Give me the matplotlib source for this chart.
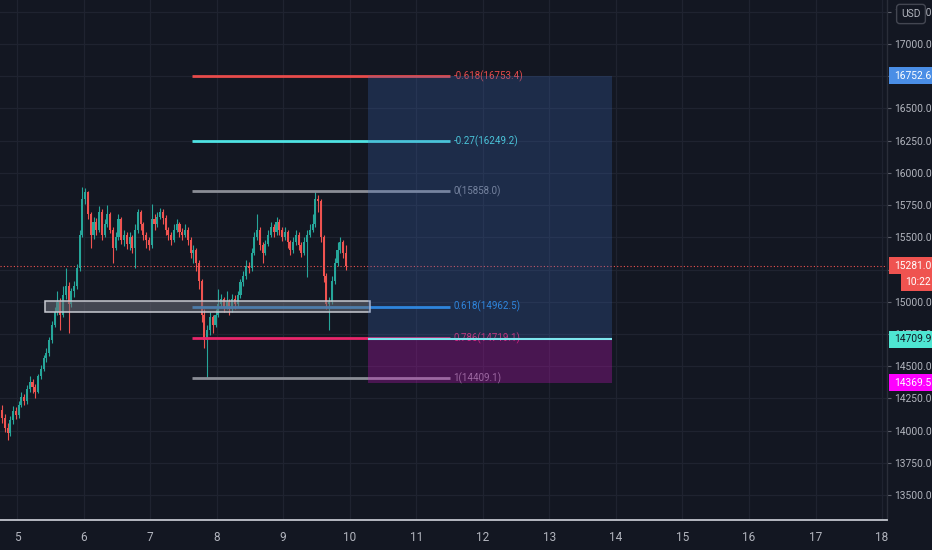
import matplotlib
matplotlib.use("Agg")
import matplotlib.pyplot as plt
import matplotlib.transforms as mtransforms
from matplotlib.patches import Rectangle

plt.rcParams['font.family'] = ['Roboto', 'DejaVu Sans']

# hourly candles, starting day 4.775
t_start = 4.775
opens = [14160, 14100, 14020, 13980, 14080, 14150, 14120, 14200, 14260, 14230,
         14320, 14380, 14340, 14300, 14420, 14480, 14560, 14600, 14700, 14820,
         14920, 15000, 14900, 15050, 15120, 14980, 15080, 15120, 15260, 15520,
         15800, 15850, 15680, 15520, 15620, 15560, 15700, 15520, 15600, 15680,
         15560, 15420, 15500, 15640, 15480, 15520, 15450, 15500, 15420, 15560,
         15700, 15600, 15520, 15480, 15440, 15640, 15600, 15660, 15700, 15650,
         15560, 15520, 15480, 15560, 15600, 15540, 15520, 15560, 15480, 15380,
         15400, 15300, 15160, 14900, 14700, 14780, 14880, 14820, 14900, 14980,
         15020, 14960, 15000, 14940, 15020, 14980, 15050, 15150, 15200, 15280,
         15260, 15380, 15500, 15560, 15440, 15380, 15450, 15520, 15580, 15540,
         15620, 15560, 15500, 15540, 15460, 15400, 15460, 15520, 15440, 15380,
         15460, 15520, 15560, 15600, 15800, 15780, 15500, 15200, 14980, 15000,
         15160, 15300, 15400, 15460, 15380]
closes = [14100, 14020, 13980, 14080, 14150, 14120, 14200, 14260, 14230, 14320,
          14380, 14340, 14300, 14420, 14480, 14560, 14600, 14700, 14820, 14920,
          15000, 14900, 15050, 15120, 14980, 15080, 15120, 15260, 15520, 15800,
          15850, 15680, 15520, 15620, 15560, 15700, 15520, 15600, 15680, 15560,
          15420, 15500, 15640, 15480, 15520, 15450, 15500, 15420, 15560, 15700,
          15600, 15520, 15480, 15440, 15640, 15600, 15660, 15700, 15650, 15560,
          15520, 15480, 15560, 15600, 15540, 15520, 15560, 15480, 15380, 15400,
          15300, 15160, 14900, 14700, 14780, 14880, 14820, 14900, 14980, 15020,
          14960, 15000, 14940, 15020, 14980, 15050, 15150, 15200, 15280, 15260,
          15380, 15500, 15560, 15440, 15380, 15450, 15520, 15580, 15540, 15620,
          15560, 15500, 15540, 15460, 15400, 15460, 15520, 15440, 15380, 15460,
          15520, 15560, 15600, 15800, 15780, 15500, 15200, 14980, 15000, 15160,
          15300, 15400, 15460, 15380, 15281]
highs = [14200, 14130, 14060, 14110, 14190, 14180, 14230, 14300, 14280, 14350,
         14420, 14400, 14360, 14440, 14510, 14590, 14640, 14730, 14850, 14960,
         15080, 15030, 15120, 15260, 15150, 15110, 15160, 15290, 15560, 15890,
         15880, 15860, 15700, 15660, 15650, 15740, 15720, 15640, 15750, 15700,
         15580, 15540, 15680, 15660, 15560, 15540, 15540, 15520, 15600, 15720,
         15710, 15620, 15540, 15500, 15760, 15680, 15700, 15730, 15720, 15670,
         15580, 15540, 15600, 15640, 15620, 15570, 15600, 15580, 15500, 15440,
         15420, 15320, 15180, 14940, 14820, 14920, 14900, 14940, 15100, 15060,
         15040, 15080, 15020, 15060, 15050, 15080, 15180, 15240, 15320, 15310,
         15420, 15540, 15680, 15580, 15460, 15480, 15560, 15620, 15600, 15660,
         15640, 15580, 15580, 15560, 15480, 15500, 15560, 15540, 15460, 15500,
         15560, 15600, 15680, 15860, 15830, 15800, 15520, 15220, 15040, 15200,
         15340, 15460, 15500, 15480, 15440]
lows = [14060, 13990, 13930, 13960, 14050, 14090, 14100, 14180, 14200, 14210,
        14300, 14290, 14250, 14290, 14400, 14460, 14530, 14580, 14680, 14800,
        14900, 14780, 14880, 15020, 14760, 14960, 15040, 15100, 15240, 15500,
        15760, 15640, 15420, 15490, 15520, 15540, 15480, 15500, 15580, 15530,
        15300, 15400, 15480, 15450, 15430, 15410, 15400, 15380, 15260, 15530,
        15560, 15480, 15420, 15400, 15420, 15560, 15580, 15640, 15600, 15520,
        15480, 15440, 15460, 15540, 15500, 15480, 15500, 15440, 15340, 15300,
        15240, 15100, 14840, 14640, 14410, 14740, 14760, 14800, 14880, 14950,
        14920, 14940, 14900, 14920, 14940, 14960, 15030, 15120, 15180, 15220,
        15240, 15360, 15480, 15400, 15300, 15360, 15430, 15500, 15500, 15520,
        15520, 15470, 15480, 15420, 15360, 15380, 15440, 15400, 15350, 15360,
        15190, 15500, 15540, 15580, 15700, 15460, 15150, 14940, 14780, 14980,
        15140, 15280, 15380, 15340, 15250]

# fibonacci retracement levels
fib_ratios = ["-0.618", "-0.27", "0", "0.618", "0.786", "1"]
fib_prices = [16753.4, 16249.2, 15858.0, 14962.5, 14719.1, 14409.1]
fib_colors = ["#e84b4b", "#4fe3e3", "#8a8d96", "#2a8fe8", "#e8266a", "#8a8d96"]
fib_start, fib_end = 7.63, 11.507

# long position tool
pos_start, pos_end = 10.275, 13.942
entry_price = 14709.9
target_price = 16752.6
stop_price = 14369.5

# gray zone
zone_x = [5.421, 10.305]
zone_y = [14923, 15008]

last_price = 15281.0
countdown = "10:22"

day_ticks = list(range(5, 19))
price_ticks = [13500 + 250 * k for k in range(16)]

bg = "#131722"
up_col = "#26a69a"
down_col = "#ef5350"
txt_col = "#b2b5be"

fig = plt.figure(figsize=(9.32, 5.5), dpi=100, facecolor=bg)
ax = fig.add_axes([0, 30 / 550, 887 / 932, 520 / 550])
ax.set_facecolor(bg)
ax.set_xlim(4.7445, 18.0745)
ax.set_ylim(13306, 17341.5)

# grid and scales
ax.set_xticks(day_ticks)
ax.set_xticklabels([str(d) for d in day_ticks])
ax.set_yticks(price_ticks)
ax.set_yticklabels(["%.1f" % p for p in price_ticks])
ax.grid(True, color="#1f2330", linewidth=0.9, zorder=0)
ax.set_axisbelow(True)
ax.yaxis.tick_right()
ax.tick_params(axis="y", colors="#5d606b", length=3, width=0.8, pad=2,
               labelcolor=txt_col, labelsize=7.4)
ax.tick_params(axis="x", length=0, pad=8, labelcolor=txt_col, labelsize=8.5)
for s in ["top", "left"]:
    ax.spines[s].set_visible(False)
ax.spines["bottom"].set_color("#c3c6ce")
ax.spines["bottom"].set_linewidth(1.3)
ax.spines["right"].set_color("#2a2e39")
ax.spines["right"].set_linewidth(1.0)

# candles
for i in range(len(closes)):
    x = t_start + i / 24
    o, h, l, c = opens[i], highs[i], lows[i], closes[i]
    col = up_col if c >= o else down_col
    ax.vlines(x, l, h, color=col, linewidth=0.8, zorder=3)
    ax.bar(x, max(abs(c - o), 8), bottom=min(o, c), width=0.031,
           color=col, linewidth=0, zorder=3)

# last price dotted line
ax.axhline(last_price, color="#ef5350", linestyle=(0, (1, 2)), linewidth=0.8, zorder=2)

# fib levels
for r, p, col in zip(fib_ratios, fib_prices, fib_colors):
    ax.hlines(p, fib_start, fib_end, color=col, linewidth=2, zorder=4)
    ax.text(fib_end + 0.05, p, "%s(%.1f)" % (r, p), color=col, fontsize=7,
            va="center", ha="left", zorder=4)

# gray zone
ax.add_patch(Rectangle((zone_x[0], zone_y[0]), zone_x[1] - zone_x[0], zone_y[1] - zone_y[0],
                       facecolor="#6a6d78", alpha=0.55, edgecolor="none", zorder=5))
ax.add_patch(Rectangle((zone_x[0], zone_y[0]), zone_x[1] - zone_x[0], zone_y[1] - zone_y[0],
                       facecolor="none", edgecolor="#c8cad2", linewidth=1.1, zorder=5))

# position tool
ax.add_patch(Rectangle((pos_start, entry_price), pos_end - pos_start, target_price - entry_price,
                       facecolor="#3d6bbf", alpha=0.25, edgecolor="none", zorder=6))
ax.add_patch(Rectangle((pos_start, stop_price), pos_end - pos_start, entry_price - stop_price,
                       facecolor="#c814be", alpha=0.3, edgecolor="none", zorder=6))
ax.hlines(entry_price, pos_start, pos_end, color="#7ee6ee", linewidth=1.5, zorder=7)

# price scale labels
tr = mtransforms.blended_transform_factory(fig.transFigure, ax.transData)
box_h = 17 / 0.12886
scale_labels = [
    (target_price, "%.1f" % target_price, "#4a8ee6", "white", 889),
    (last_price, "%.1f" % last_price, "#ef5350", "white", 889),
    (15153, countdown, "#ef5350", "white", 901),
    (entry_price, "%.1f" % entry_price, "#4ee6d2", "#131722", 889),
    (stop_price, "%.1f" % stop_price, "#ff00ff", "white", 889),
]
for p, label, fc, tc, x0 in scale_labels:
    fig.add_artist(Rectangle((x0 / 932, p - box_h / 2), (932 - x0) / 932, box_h,
                             transform=tr, facecolor=fc, edgecolor="none", zorder=5))
    fig.text((x0 + 932) / 2 / 932 + 0.002, p, label, transform=tr, color=tc, fontsize=7.4,
             ha="center", va="center", zorder=6)

# currency box
fig.text(911 / 932, 1 - 14 / 550, "USD", color=txt_col, fontsize=7.4, ha="center", va="center",
         bbox=dict(boxstyle="round,pad=0.45,rounding_size=0.3", facecolor=bg, edgecolor="#434651",
                   linewidth=1), zorder=7)

plt.savefig("out.png", dpi=100, facecolor=bg)
